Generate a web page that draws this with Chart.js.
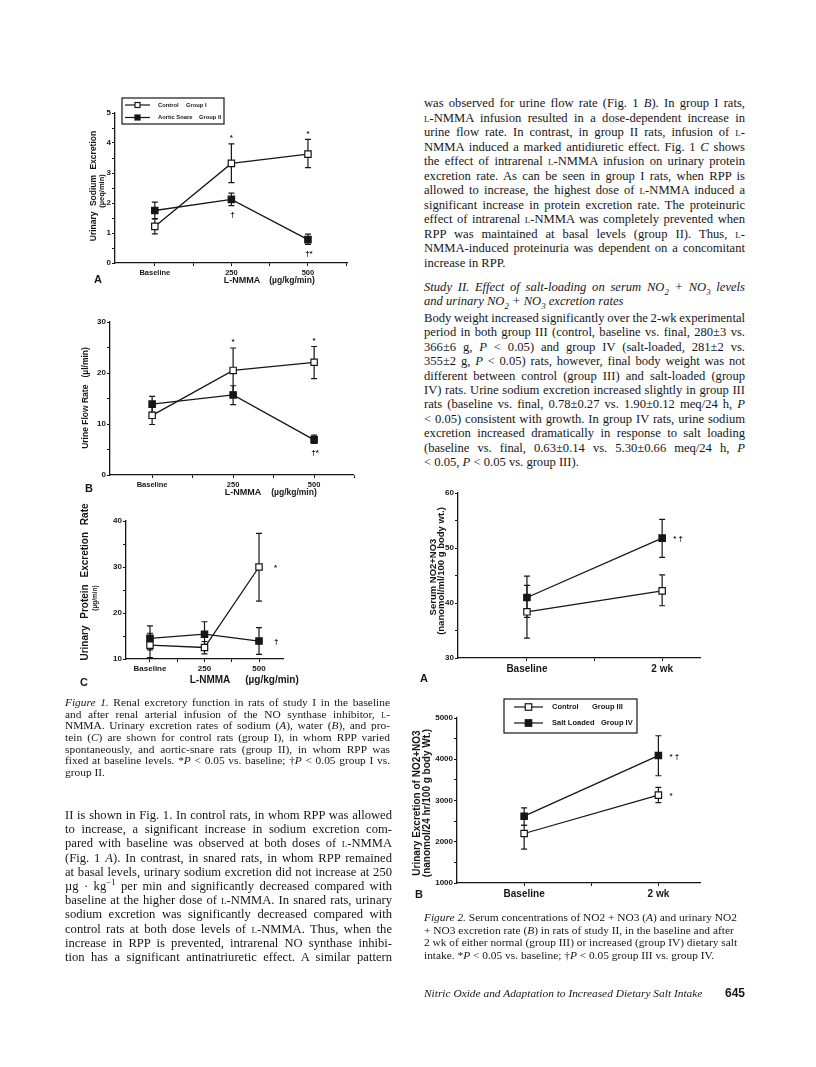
<!DOCTYPE html>
<html>
<head>
<meta charset="utf-8">
<script src="https://cdn.jsdelivr.net/npm/chart.js@4.4.1/dist/chart.umd.min.js"></script>
<style>
html, body { margin: 0; background: #fff; }
#page { position: relative; width: 816px; height: 1067px; overflow: hidden; background: #fff; color: #161616; }
#page canvas { position: absolute; }
.ln { position: absolute; white-space: nowrap; font-family: 'Liberation Serif', 'Times New Roman', serif; }
.body { font-size: 12.6px; line-height: 14px; }
.cap { font-size: 11.4px; line-height: 12px; }
.foot { font-size: 11.4px; line-height: 14px; }
.sc { font-variant: small-caps; }
sub, sup { font-size: 70%; line-height: 0; }
.lab { position: absolute; white-space: nowrap; font-family: 'Liberation Sans', Arial, sans-serif; font-weight: bold; transform: translate(-50%, -50%); line-height: 1; }
.rot { transform: translate(-50%, -50%) rotate(-90deg); }
</style>
</head>
<body>
<div id="page">
  <canvas id="fig1a"></canvas>
  <canvas id="fig1b"></canvas>
  <canvas id="fig1c"></canvas>
  <canvas id="fig2a"></canvas>
  <canvas id="fig2b"></canvas>
</div>
<script>
// ---- data ----
const doseLabels = ['Baseline', '250', '500'];
const weekLabels = ['Baseline', '2 wk'];
const study1Names = ['Control', 'Aortic Snare'];
const study1Groups = ['Group I', 'Group II'];
const study2Names = ['Control', 'Salt Loaded'];
const study2Groups = ['Group III', 'Group IV'];

// Fig 1A urinary sodium excretion (ueq/min)
const naCtrl = [1.22, 3.32, 3.63];
const naCtrlLo = [0.97, 2.68, 3.18];
const naCtrlHi = [1.47, 3.97, 4.12];
const naSnare = [1.75, 2.12, 0.78];
const naSnareLo = [1.48, 1.91, 0.62];
const naSnareHi = [2.03, 2.33, 0.96];
const naCtrlSig = ['', '*', '*'];
const naSnareSig = ['', '†', '†*'];

// Fig 1B urine flow rate (ul/min)
const flowCtrl = [11.7, 20.5, 22.1];
const flowCtrlLo = [9.9, 16.2, 18.9];
const flowCtrlHi = [13.5, 24.9, 25.2];
const flowSnare = [13.9, 15.7, 6.9];
const flowSnareLo = [12.3, 13.8, 6.2];
const flowSnareHi = [15.4, 17.5, 7.8];
const flowCtrlSig = ['', '*', '*'];
const flowSnareSig = ['', '', '†*'];

// Fig 1C urinary protein excretion (ug/min)
const protCtrl = [13.0, 12.5, 30.0];
const protCtrlLo = [10.3, 11.1, 22.6];
const protCtrlHi = [15.6, 13.8, 37.3];
const protSnare = [14.5, 15.4, 13.9];
const protSnareLo = [12.0, 12.9, 11.0];
const protSnareHi = [17.2, 18.1, 16.8];
const protCtrlSig = ['', '', '*'];
const protSnareSig = ['', '', '†'];

// Fig 2A serum NO2+NO3
const serumCtrl = [38.4, 42.2];
const serumCtrlLo = [33.6, 39.5];
const serumCtrlHi = [43.2, 45.1];
const serumSalt = [41.0, 51.8];
const serumSaltLo = [37.4, 48.3];
const serumSaltHi = [44.9, 55.2];
const serumCtrlSig = ['', ''];
const serumSaltSig = ['', '* †'];

// Fig 2B urinary NO2+NO3 excretion
const urCtrl = [2200, 3130];
const urCtrlLo = [1820, 2950];
const urCtrlHi = [2400, 3320];
const urSalt = [2620, 4090];
const urSaltLo = [2400, 3600];
const urSaltHi = [2820, 4570];
const urCtrlSig = ['', '*'];
const urSaltSig = ['', '* †'];

const INK = '#161616';
Chart.defaults.font.family = "'Liberation Sans', Arial, sans-serif";
Chart.defaults.font.weight = 'bold';
Chart.defaults.color = INK;

const page = document.getElementById('page');

// error bars + significance marks
const errorBars = {
  id: 'errorBars',
  beforeDatasetsDraw(chart) {
    const { ctx, scales: { x, y } } = chart;
    const cap = chart.options.plugins.errorBars.cap;
    ctx.save();
    ctx.strokeStyle = INK;
    ctx.lineWidth = 1.2;
    chart.data.datasets.forEach(ds => {
      ds.data.forEach((p, i) => {
        const px = x.getPixelForValue(p.x);
        const y0 = y.getPixelForValue(ds.lo[i]);
        const y1 = y.getPixelForValue(ds.hi[i]);
        ctx.beginPath();
        ctx.moveTo(px, y0); ctx.lineTo(px, y1);
        ctx.moveTo(px - cap, y0); ctx.lineTo(px + cap, y0);
        ctx.moveTo(px - cap, y1); ctx.lineTo(px + cap, y1);
        ctx.stroke();
      });
    });
    ctx.restore();
  },
  afterDatasetsDraw(chart) {
    const { ctx, scales: { x, y } } = chart;
    const dx = chart.options.plugins.errorBars.sigDx;
    ctx.save();
    ctx.fillStyle = INK;
    ctx.font = "bold 8px 'Liberation Sans', Arial, sans-serif";
    chart.data.datasets.forEach(ds => {
      ds.data.forEach((p, i) => {
        const s = ds.sig[i];
        if (!s) return;
        const px = x.getPixelForValue(p.x);
        ctx.textBaseline = 'middle';
        if (ds.sigPos === 'above') {
          ctx.textAlign = 'center';
          ctx.fillText(s, px, y.getPixelForValue(ds.hi[i]) - 6);
        } else if (ds.sigPos === 'below') {
          ctx.textAlign = 'center';
          ctx.fillText(s, px + 1, y.getPixelForValue(ds.lo[i]) + 9);
        } else {
          ctx.textAlign = 'left';
          ctx.fillText(s, px + dx, y.getPixelForValue(p.y) + 1);
        }
      });
    });
    ctx.restore();
  }
};

// boxed legend like the original
const boxLegend = {
  id: 'boxLegend',
  afterDraw(chart) {
    const o = chart.options.plugins.boxLegend;
    if (!o.box) return;
    const { ctx } = chart;
    const [ox, oy] = o.origin;
    ctx.save();
    ctx.strokeStyle = INK;
    ctx.lineWidth = 1.2;
    ctx.strokeRect(o.box[0] - ox, o.box[1] - oy, o.box[2] - o.box[0], o.box[3] - o.box[1]);
    ctx.font = o.font;
    ctx.textBaseline = 'middle';
    ctx.textAlign = 'left';
    chart.data.datasets.forEach((ds, i) => {
      const r = o.rows[i];
      const yy = r.y - oy;
      ctx.beginPath();
      ctx.moveTo(o.line[0] - ox, yy); ctx.lineTo(o.line[1] - ox, yy);
      ctx.stroke();
      const mx = (o.line[0] + o.line[1]) / 2 - ox, h = o.mark / 2;
      ctx.fillStyle = ds.pointBackgroundColor;
      ctx.fillRect(mx - h, yy - h, o.mark, o.mark);
      ctx.strokeRect(mx - h, yy - h, o.mark, o.mark);
      ctx.fillStyle = INK;
      ctx.fillText(ds.label, r.nameX - ox, yy);
      ctx.fillText(ds.group, r.groupX - ox, yy);
    });
    ctx.restore();
  }
};

function series(label, group, vals, lo, hi, sig, sigPos, filled, radius) {
  return {
    label, group, lo, hi, sig, sigPos,
    data: vals.map((v, i) => ({ x: i, y: v })),
    borderColor: INK, borderWidth: 1.3, tension: 0,
    pointStyle: 'rect', pointRadius: radius, pointBorderWidth: 1.2,
    pointBorderColor: INK, pointBackgroundColor: filled ? INK : '#fff',
    clip: false
  };
}

function range(a, b, step) {
  const out = [];
  for (let v = a; v <= b + 1e-9; v += step) out.push(Math.round(v * 1000) / 1000);
  return out;
}

function makeChart(o) {
  const c = document.getElementById(o.id);
  const L = o.area.l - o.pad.l, T = o.area.t - o.pad.t;
  const W = o.area.r + o.pad.r - L, H = o.area.b + o.pad.b - T;
  c.width = W; c.height = H;
  c.style.left = L + 'px'; c.style.top = T + 'px';
  const legend = o.legend ? Object.assign({ origin: [L, T] }, o.legend) : {};
  return new Chart(c, {
    type: 'line',
    data: { datasets: o.datasets },
    options: {
      responsive: false, animation: false, devicePixelRatio: 1,
      layout: { padding: { top: o.pad.t, right: o.pad.r, left: 0, bottom: 0 } },
      plugins: {
        legend: { display: false }, tooltip: { enabled: false },
        errorBars: { cap: o.cap, sigDx: o.sigDx || 11 }, boxLegend: legend
      },
      scales: {
        x: {
          type: 'linear', min: o.xr[0], max: o.xr[1],
          afterFit(s) { s.height = o.pad.b; },
          afterBuildTicks(s) { s.ticks = o.xTicks.map(v => ({ value: v })); },
          ticks: {
            autoSkip: false, maxRotation: 0, minRotation: 0, padding: 2,
            font: { size: o.xFont }, callback: v => (Number.isInteger(v) ? o.xLabels[v] : '')
          },
          grid: { drawOnChartArea: false, tickLength: 3, color: INK },
          border: { color: INK, width: 1.3 }
        },
        y: {
          min: o.yr[0], max: o.yr[1],
          afterFit(s) { s.width = o.pad.l; },
          afterBuildTicks(s) { s.ticks = range(o.yr[0], o.yr[1], o.yStep).map(v => ({ value: v })); },
          ticks: {
            padding: 1, font: { size: o.yFont },
            callback: v => (Math.abs(v / o.yLabelStep - Math.round(v / o.yLabelStep)) < 1e-6 ? v : '')
          },
          grid: { drawOnChartArea: false, tickLength: 3, color: INK },
          border: { color: INK, width: 1.3 }
        }
      }
    },
    plugins: [errorBars, boxLegend]
  });
}

makeChart({
  id: 'fig1a', area: { l: 115, t: 113, r: 347, b: 263 }, pad: { l: 24, t: 18, r: 12, b: 18 },
  xr: [-0.52, 2.51], xTicks: [0, 0.5, 1, 1.5, 2, 2.5], xLabels: doseLabels, xFont: 7.5,
  yr: [0, 5], yStep: 0.5, yLabelStep: 1, yFont: 8, cap: 3,
  datasets: [
    series(study1Names[0], study1Groups[0], naCtrl, naCtrlLo, naCtrlHi, naCtrlSig, 'above', false, 4.5),
    series(study1Names[1], study1Groups[1], naSnare, naSnareLo, naSnareHi, naSnareSig, 'below', true, 4.5)
  ],
  legend: {
    box: [122, 98, 224, 124], line: [125, 150], mark: 5, font: "bold 5.8px 'Liberation Sans', Arial, sans-serif",
    rows: [{ y: 105, nameX: 158, groupX: 186 }, { y: 117.5, nameX: 158, groupX: 199 }]
  }
});

makeChart({
  id: 'fig1b', area: { l: 110, t: 322, r: 353, b: 475 }, pad: { l: 24, t: 10, r: 12, b: 18 },
  xr: [-0.52, 2.48], xTicks: [0, 0.5, 1, 1.5, 2, 2.5], xLabels: doseLabels, xFont: 7.5,
  yr: [0, 30], yStep: 5, yLabelStep: 10, yFont: 8, cap: 3,
  datasets: [
    series(study1Names[0], study1Groups[0], flowCtrl, flowCtrlLo, flowCtrlHi, flowCtrlSig, 'above', false, 4.5),
    series(study1Names[1], study1Groups[1], flowSnare, flowSnareLo, flowSnareHi, flowSnareSig, 'below', true, 4.5)
  ]
});

makeChart({
  id: 'fig1c', area: { l: 126, t: 521, r: 283, b: 659 }, pad: { l: 24, t: 10, r: 40, b: 18 },
  xr: [-0.44, 2.44], xTicks: [0, 0.5, 1, 1.5, 2], xLabels: doseLabels, xFont: 8,
  yr: [10, 40], yStep: 5, yLabelStep: 10, yFont: 8, cap: 3, sigDx: 15,
  datasets: [
    series(study1Names[0], study1Groups[0], protCtrl, protCtrlLo, protCtrlHi, protCtrlSig, 'right', false, 4.5),
    series(study1Names[1], study1Groups[1], protSnare, protSnareLo, protSnareHi, protSnareSig, 'right', true, 4.5)
  ]
});

makeChart({
  id: 'fig2a', area: { l: 458, t: 493, r: 700, b: 658 }, pad: { l: 26, t: 10, r: 12, b: 20 },
  xr: [-0.51, 1.28], xTicks: [0, 0.5, 1], xLabels: weekLabels, xFont: 10,
  yr: [30, 60], yStep: 5, yLabelStep: 10, yFont: 8, cap: 3,
  datasets: [
    series(study2Names[0], study2Groups[0], serumCtrl, serumCtrlLo, serumCtrlHi, serumCtrlSig, 'right', false, 4.5),
    series(study2Names[1], study2Groups[1], serumSalt, serumSaltLo, serumSaltHi, serumSaltSig, 'right', true, 4.5)
  ]
});

makeChart({
  id: 'fig2b', area: { l: 457, t: 718, r: 700, b: 883 }, pad: { l: 32, t: 24, r: 12, b: 20 },
  xr: [-0.5, 1.31], xTicks: [0, 0.5, 1], xLabels: weekLabels, xFont: 10,
  yr: [1000, 5000], yStep: 500, yLabelStep: 1000, yFont: 8, cap: 3,
  datasets: [
    series(study2Names[0], study2Groups[0], urCtrl, urCtrlLo, urCtrlHi, urCtrlSig, 'right', false, 4.5),
    series(study2Names[1], study2Groups[1], urSalt, urSaltLo, urSaltHi, urSaltSig, 'right', true, 4.5)
  ],
  legend: {
    box: [504, 699, 637, 733], line: [514, 543], mark: 6.5, font: "bold 7.5px 'Liberation Sans', Arial, sans-serif",
    rows: [{ y: 707, nameX: 552, groupX: 592 }, { y: 723, nameX: 552, groupX: 601 }]
  }
});

// ---- figure labels (axis titles, panel letters) ----
function label(html, cx, cy, size, rot, extra) {
  const d = document.createElement('div');
  d.className = 'lab' + (rot ? ' rot' : '');
  d.style.left = cx + 'px'; d.style.top = cy + 'px'; d.style.fontSize = size + 'px';
  if (extra) Object.assign(d.style, extra);
  d.innerHTML = html;
  page.appendChild(d);
}
label('A', 98, 279, 11);
label('L-NMMA', 242, 280, 9);
label('(µg/kg/min)', 292, 280, 8.5);
label('Urinary Sodium Excretion', 93, 186, 8.5, true, { wordSpacing: '3px' });
label('(µeq/min)', 102, 191, 7.5, true);

label('B', 89, 488, 11);
label('L-NMMA', 243, 492, 9);
label('(µg/kg/min)', 294, 492, 8.5);
label('Urine Flow Rate &nbsp;&nbsp;(µl/min)', 85, 398, 8.5, true);

label('C', 84, 682, 11);
label('L-NMMA', 210, 680, 10);
label('(µg/kg/min)', 272, 680, 10);
label('Urinary Protein Excretion Rate', 85, 582, 10, true, { wordSpacing: '4px' });
label('(µg/min)', 95, 598, 6.5, true);

label('A', 424, 678, 11);
label('Serum NO2+NO3', 433, 577, 9.5, true);
label('(nanomol/ml/100 g body wt.)', 441, 571, 9.5, true);

label('B', 419, 894, 11);
label('Urinary Excretion of NO2+NO3', 417, 803, 10, true);
label('(nanomol/24 hr/100 g body Wt.)', 427, 803, 10, true);

// ---- running text ----
const LN = '<span class="sc">l</span>-NMMA';
const Pi = '<i>P</i>';

const cap1 = [
  '<i>Figure 1.</i> Renal excretory function in rats of study I in the baseline',
  'and after renal arterial infusion of the NO synthase inhibitor, <span class="sc">l</span>-',
  'NMMA. Urinary excretion rates of sodium (<i>A</i>), water (<i>B</i>), and pro-',
  'tein (<i>C</i>) are shown for control rats (group I), in whom RPP varied',
  'spontaneously, and aortic-snare rats (group II), in whom RPP was',
  'fixed at baseline levels. *' + Pi + ' &lt; 0.05 vs. baseline; †' + Pi + ' &lt; 0.05 group I vs.',
  'group II.'
];
const leftBody = [
  'II is shown in Fig. 1. In control rats, in whom RPP was allowed',
  'to increase, a significant increase in sodium excretion com-',
  'pared with baseline was observed at both doses of ' + LN,
  '(Fig. 1 <i>A</i>). In contrast, in snared rats, in whom RPP remained',
  'at basal levels, urinary sodium excretion did not increase at 250',
  'µg · kg<sup>−1</sup> per min and significantly decreased compared with',
  'baseline at the higher dose of ' + LN + '. In snared rats, urinary',
  'sodium excretion was significantly decreased compared with',
  'control rats at both dose levels of ' + LN + '. Thus, when the',
  'increase in RPP is prevented, intrarenal NO synthase inhibi-',
  'tion has a significant antinatriuretic effect. A similar pattern'
];
const rightBody = [
  'was observed for urine flow rate (Fig. 1 <i>B</i>). In group I rats,',
  LN + ' infusion resulted in a dose-dependent increase in',
  'urine flow rate. In contrast, in group II rats, infusion of <span class="sc">l</span>-',
  'NMMA induced a marked antidiuretic effect. Fig. 1 <i>C</i> shows',
  'the effect of intrarenal ' + LN + ' infusion on urinary protein',
  'excretion rate. As can be seen in group I rats, when RPP is',
  'allowed to increase, the highest dose of ' + LN + ' induced a',
  'significant increase in protein excretion rate. The proteinuric',
  'effect of intrarenal ' + LN + ' was completely prevented when',
  'RPP was maintained at basal levels (group II). Thus, <span class="sc">l</span>-',
  'NMMA-induced proteinuria was dependent on a concomitant',
  'increase in RPP.'
];
const heading = [
  '<i>Study II. Effect of salt-loading on serum NO<sub>2</sub> + NO<sub>3</sub> levels</i>',
  '<i>and urinary NO<sub>2</sub> + NO<sub>3</sub> excretion rates</i>'
];
const rightPara = [
  'Body weight increased significantly over the 2-wk experimental',
  'period in both group III (control, baseline vs. final, 280±3 vs.',
  '366±6 g, ' + Pi + ' &lt; 0.05) and group IV (salt-loaded, 281±2 vs.',
  '355±2 g, ' + Pi + ' &lt; 0.05) rats, however, final body weight was not',
  'different between control (group III) and salt-loaded (group',
  'IV) rats. Urine sodium excretion increased slightly in group III',
  'rats (baseline vs. final, 0.78±0.27 vs. 1.90±0.12 meq/24 h, ' + Pi,
  '&lt; 0.05) consistent with growth. In group IV rats, urine sodium',
  'excretion increased dramatically in response to salt loading',
  '(baseline vs. final, 0.63±0.14 vs. 5.30±0.66 meq/24 h, ' + Pi,
  '&lt; 0.05, ' + Pi + ' &lt; 0.05 vs. group III).'
];
const cap2 = [
  '<i>Figure 2.</i> Serum concentrations of NO2 + NO3 (<i>A</i>) and urinary NO2',
  '+ NO3 excretion rate (<i>B</i>) in rats of study II, in the baseline and after',
  '2 wk of either normal (group III) or increased (group IV) dietary salt',
  'intake. *' + Pi + ' &lt; 0.05 vs. baseline; †' + Pi + ' &lt; 0.05 group III vs. group IV.'
];

function block(lines, x, cy0, step, w, cls, lh, justifyUpTo) {
  lines.forEach((s, i) => {
    const d = document.createElement('div');
    d.className = 'ln ' + cls;
    d.style.left = x + 'px';
    d.style.top = (cy0 + i * step - lh / 2) + 'px';
    d.innerHTML = s;
    page.appendChild(d);
    if (i < justifyUpTo) {
      const nat = d.getBoundingClientRect().width;
      const spaces = (d.textContent.match(/ /g) || []).length;
      if (spaces) d.style.wordSpacing = ((w - nat) / spaces) + 'px';
    }
  });
}

block(cap1, 65, 702, 11.67, 325, 'cap', 12, 6);
block(leftBody, 65, 815, 14.2, 327, 'body', 14, 11);
block(rightBody, 424, 103, 14.5, 321, 'body', 14, 11);
block(heading, 424, 287, 14.2, 321, 'body', 14, 1);
block(rightPara, 424, 318, 14.4, 321, 'body', 14, 10);
block(cap2, 424, 917, 12.67, 321, 'cap', 12, 0);

const foot = document.createElement('div');
foot.className = 'ln foot';
foot.style.left = '424px'; foot.style.top = '986px';
foot.innerHTML = '<i>Nitric Oxide and Adaptation to Increased Dietary Salt Intake</i>';
page.appendChild(foot);
const num = document.createElement('div');
num.className = 'lab';
num.style.left = '735px'; num.style.top = '993px'; num.style.fontSize = '12px';
num.textContent = '645';
page.appendChild(num);
</script>
</body>
</html>
